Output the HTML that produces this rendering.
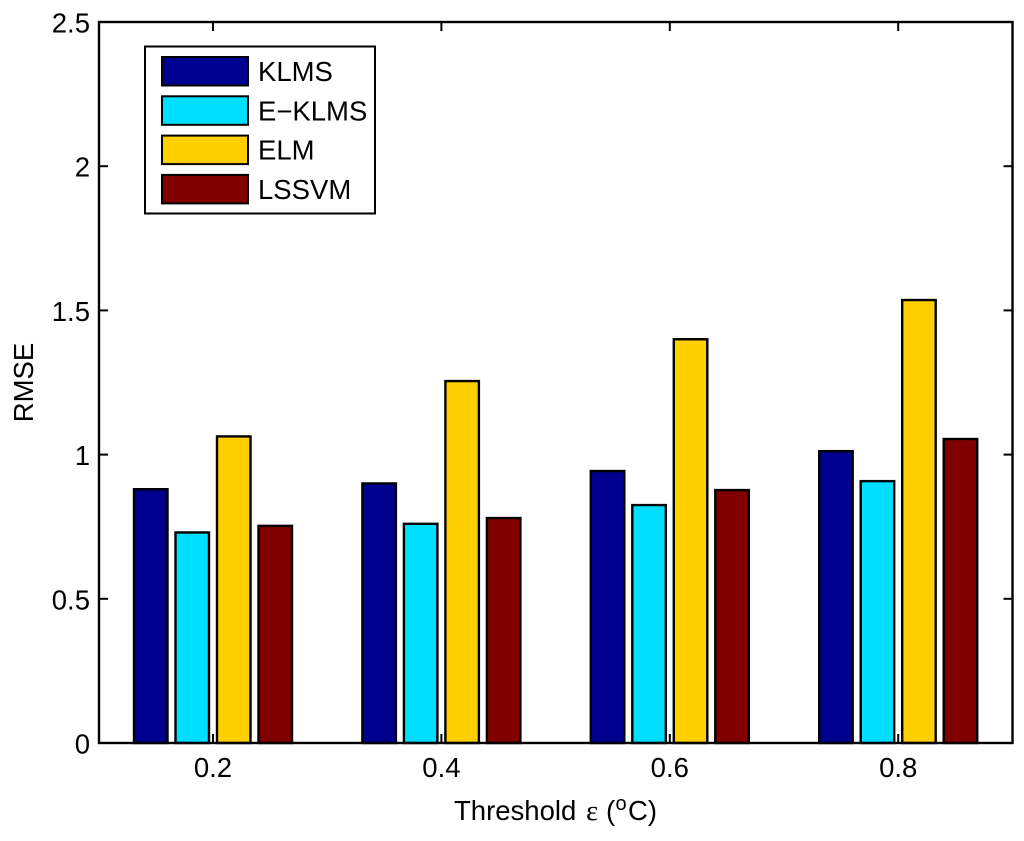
<!DOCTYPE html>
<html>
<head>
<meta charset="utf-8">
<style>
html,body{margin:0;padding:0;background:#fff;width:1024px;height:841px;overflow:hidden}
svg{display:block;font-family:"Liberation Sans",sans-serif;fill:#000}
text{filter:blur(0.3px)}
</style>
</head>
<body>
<svg id="chart" width="1024" height="841" viewBox="0 0 1024 841" xmlns="http://www.w3.org/2000/svg">
<text transform="translate(33,382.5) rotate(-90)" text-anchor="middle" font-size="27.5">RMSE</text>
<text x="454" y="820" font-size="27.5">Threshold <tspan x="586" font-size="29" font-family="'Liberation Serif',serif">ε</tspan><tspan x="606">(</tspan><tspan x="615.5" font-size="20" dy="-10">o</tspan><tspan x="628" dy="10">C)</tspan></text>
</svg>
<script>
var categories = ['0.2', '0.4', '0.6', '0.8'];
var yTicks = [0, 0.5, 1, 1.5, 2];
var yTickLabels = ['0', '0.5', '1', '1.5', '2'];
var yTopTick = 2.5;
var seriesNames = ['KLMS', 'E-KLMS', 'ELM', 'LSSVM'];
var seriesColors = ['#00008f', '#00dfff', '#ffcf00', '#800000'];
var klms = [0.88, 0.90, 0.943, 1.012];
var eklms = [0.73, 0.76, 0.825, 0.908];
var elm = [1.063, 1.255, 1.40, 1.536];
var lssvm = [0.753, 0.78, 0.877, 1.054];

var svg = document.getElementById('chart');
var NS = 'http://www.w3.org/2000/svg';
var L = 99, R = 1012.5, T = 22, B = 743;
var seriesValues = [klms, eklms, elm, lssvm];

function xScale(i) { return 213 + i * 228.4; }
function yScale(v) { return B - (v / yTopTick) * (B - T); }
function make(tag, attrs) {
  var el = document.createElementNS(NS, tag);
  for (var k in attrs) { el.setAttribute(k, attrs[k]); }
  svg.appendChild(el);
  return el;
}

var barW = 33.5, barStep = 41.5;
seriesValues.forEach(function (vals, s) {
  vals.forEach(function (v, c) {
    var x = xScale(c) + (s - 1.5) * barStep - barW / 2;
    var y = yScale(v);
    var bar = make('rect', {x: x, y: y, width: barW, height: B - y, fill: seriesColors[s], stroke: '#000', 'stroke-width': 2.4});
    
    
  });
});

var frame = make('rect', {x: L, y: T, width: R - L, height: B - T, fill: 'none', stroke: '#000', 'stroke-width': 2.4});



categories.forEach(function (label, c) {
  var x = xScale(c);
  var t1 = make('line', {x1: x, x2: x, y1: B, y2: B - 9, stroke: '#000', 'stroke-width': 2});
  
  
  var t2 = make('line', {x1: x, x2: x, y1: T, y2: T + 9, stroke: '#000', 'stroke-width': 2});
  
  
  var tx = make('text', {x: x, y: 777, 'text-anchor': 'middle', 'font-size': 27.5});
  tx.textContent = label;
  
  
});

yTicks.concat([yTopTick]).forEach(function (v, i) {
  var y = yScale(v);
  if (v !== yTopTick && v !== 0) {
    var t1 = make('line', {x1: L, x2: L + 9, y1: y, y2: y, stroke: '#000', 'stroke-width': 2});
    
    
    var t2 = make('line', {x1: R, x2: R - 9, y1: y, y2: y, stroke: '#000', 'stroke-width': 2});
    
    
  }
  var tx = make('text', {x: 90, y: y + 10.5, 'text-anchor': 'end', 'font-size': 27.5});
  tx.textContent = i < yTickLabels.length ? yTickLabels[i] : String(yTopTick);
  
  
});

var legendBox = make('rect', {x: 145, y: 46.5, width: 230, height: 167, fill: '#fff', stroke: '#000', 'stroke-width': 2});


seriesNames.forEach(function (name, s) {
  var y = 57 + s * 39.3;
  var swatch = make('rect', {x: 162, y: y, width: 86, height: 28.5, fill: seriesColors[s], stroke: '#000', 'stroke-width': 2});
  
  
  var tx = make('text', {x: 258, y: y + 24, 'font-size': 27.5});
  tx.textContent = name.replace('-', '\u2212');
  
  
});
</script>
</body>
</html>
